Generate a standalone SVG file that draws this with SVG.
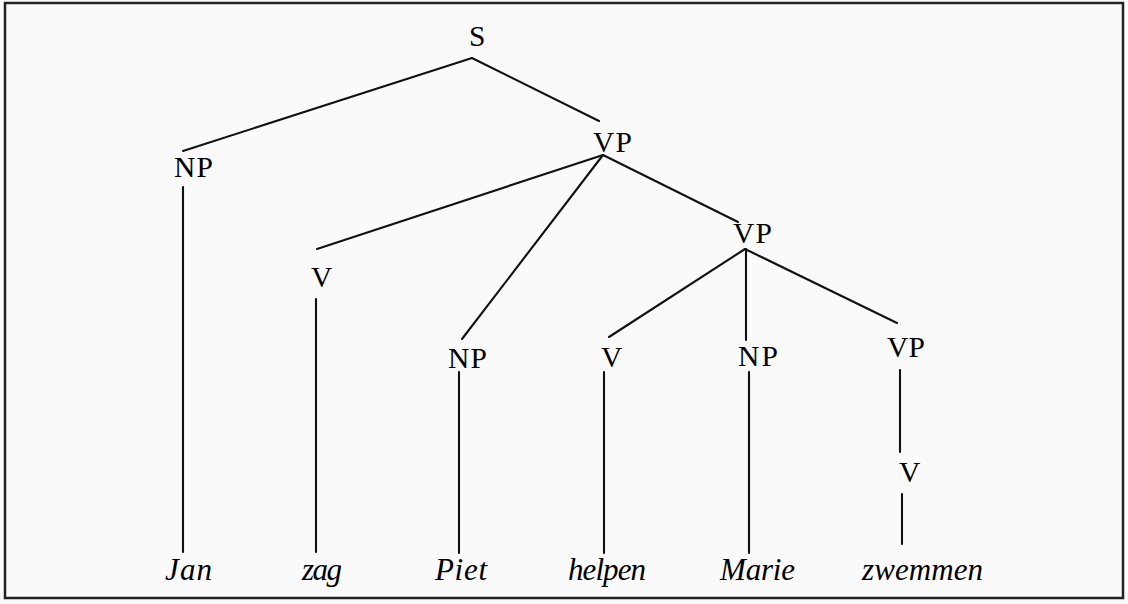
<svg xmlns="http://www.w3.org/2000/svg" width="1128" height="604" viewBox="0 0 1128 604">
<style>
.lbl{font-family:"Liberation Serif","DejaVu Serif",serif;font-size:29.5px;fill:#000}
.wd{font-family:"Liberation Serif","DejaVu Serif",serif;font-size:31px;font-style:italic;fill:#000}
.e{stroke:#111;stroke-width:2.1;fill:none;stroke-linecap:round}
</style>
<rect x="0" y="0" width="1128" height="604" fill="#fafafa"/>
<rect id="frame" x="5" y="3" width="1118" height="595" fill="none" stroke="#222" stroke-width="2.5"/>
<g id="connectors">
<line class="e" x1="472" y1="58" x2="183" y2="151"/>
<line class="e" x1="472" y1="58" x2="599" y2="121"/>
<line class="e" x1="183" y1="187" x2="183" y2="552"/>
<line class="e" x1="603" y1="155" x2="317" y2="249"/>
<line class="e" x1="603" y1="155" x2="462" y2="339"/>
<line class="e" x1="603" y1="155" x2="738" y2="222"/>
<line class="e" x1="316" y1="299" x2="316" y2="552"/>
<line class="e" x1="745" y1="249" x2="609" y2="337"/>
<line class="e" x1="746" y1="249" x2="746" y2="340"/>
<line class="e" x1="745" y1="249" x2="897" y2="323"/>
<line class="e" x1="459" y1="372" x2="459" y2="553"/>
<line class="e" x1="604" y1="372" x2="604" y2="553"/>
<line class="e" x1="749" y1="372" x2="749" y2="553"/>
<line class="e" x1="900" y1="370" x2="900" y2="452"/>
<line class="e" x1="902" y1="494" x2="902" y2="544"/>
</g>
<g id="S"><text class="lbl" x="469" y="46" textLength="15">S</text></g>
<g id="NP1"><text class="lbl" x="174" y="177" textLength="39">NP</text></g>
<g id="VP1"><text class="lbl" x="593" y="152" textLength="39">VP</text></g>
<g id="V1"><text class="lbl" x="311" y="287" textLength="19">V</text></g>
<g id="VP2"><text class="lbl" x="733" y="243" textLength="39">VP</text></g>
<g id="NP2"><text class="lbl" x="448" y="368" textLength="39">NP</text></g>
<g id="V2"><text class="lbl" x="601" y="367" textLength="19">V</text></g>
<g id="NP3"><text class="lbl" x="738" y="366" textLength="40">NP</text></g>
<g id="VP3"><text class="lbl" x="887" y="357" textLength="38">VP</text></g>
<g id="V3"><text class="lbl" x="899" y="482" textLength="19">V</text></g>
<g id="w-Jan"><text class="wd" x="165" y="580" textLength="47">Jan</text></g>
<g id="w-zag"><text class="wd" x="302" y="580" textLength="40">zag</text></g>
<g id="w-Piet"><text class="wd" x="435" y="580" textLength="52">Piet</text></g>
<g id="w-helpen"><text class="wd" x="568" y="580" textLength="78">helpen</text></g>
<g id="w-Marie"><text class="wd" x="720" y="580" textLength="75">Marie</text></g>
<g id="w-zwemmen"><text class="wd" x="862" y="580" textLength="121">zwemmen</text></g>
</svg>
